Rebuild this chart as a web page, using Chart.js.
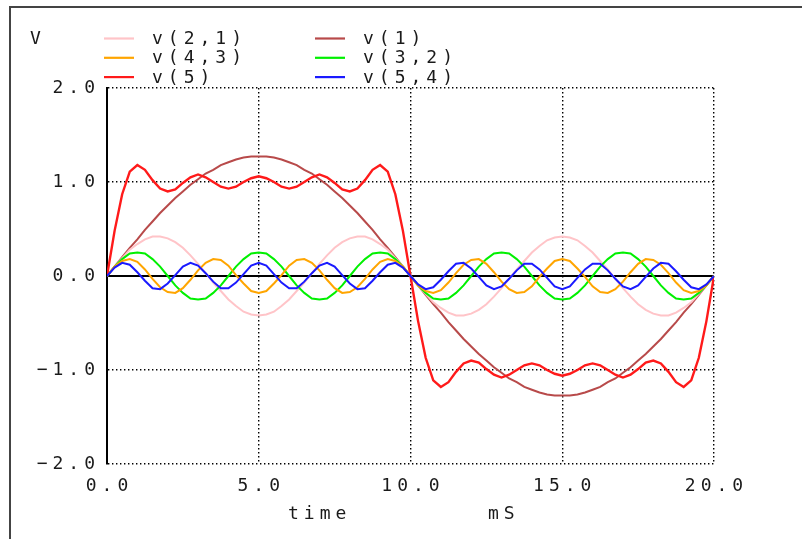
<!DOCTYPE html>
<html><head><meta charset="utf-8">
<script src="https://cdn.jsdelivr.net/npm/chart.js@4/dist/chart.umd.min.js"></script>
<style>html,body{margin:0;padding:0;background:#fff;}#wrap{width:802px;height:539px;}</style>
</head><body><div id="wrap"><canvas id="c" width="802" height="539"></canvas></div>
<script>
// time axis (mS)
const timeMs = [0,0.25,0.5,0.75,1,1.25,1.5,1.75,2,2.25,2.5,2.75,3,3.25,3.5,3.75,4,4.25,4.5,4.75,5,5.25,5.5,5.75,6,6.25,6.5,6.75,7,7.25,7.5,7.75,8,8.25,8.5,8.75,9,9.25,9.5,9.75,10,10.25,10.5,10.75,11,11.25,11.5,11.75,12,12.25,12.5,12.75,13,13.25,13.5,13.75,14,14.25,14.5,14.75,15,15.25,15.5,15.75,16,16.25,16.5,16.75,17,17.25,17.5,17.75,18,18.25,18.5,18.75,19,19.25,19.5,19.75,20];

const v1 = [0,0.10,0.20,0.30,0.39,0.49,0.58,0.67,0.75,0.83,0.90,0.97,1.03,1.09,1.13,1.18,1.21,1.24,1.26,1.27,1.27,1.27,1.26,1.24,1.21,1.18,1.13,1.09,1.03,0.97,0.90,0.83,0.75,0.67,0.58,0.49,0.39,0.30,0.20,0.10,0,
-0.10,-0.20,-0.30,-0.39,-0.49,-0.58,-0.67,-0.75,-0.83,-0.90,-0.97,-1.03,-1.09,-1.13,-1.18,-1.21,-1.24,-1.26,-1.27,-1.27,-1.27,-1.26,-1.24,-1.21,-1.18,-1.13,-1.09,-1.03,-0.97,-0.90,-0.83,-0.75,-0.67,-0.58,-0.49,-0.39,-0.30,-0.20,-0.10,0];

const v21 = [0,0.10,0.19,0.28,0.34,0.39,0.42,0.42,0.40,0.36,0.30,0.22,0.13,0.03,-0.07,-0.16,-0.25,-0.32,-0.38,-0.41,-0.42,
-0.41,-0.38,-0.32,-0.25,-0.16,-0.07,0.03,0.13,0.22,0.30,0.36,0.40,0.42,0.42,0.39,0.34,0.28,0.19,0.10,0,
-0.10,-0.19,-0.28,-0.34,-0.39,-0.42,-0.42,-0.40,-0.36,-0.30,-0.22,-0.13,-0.03,0.07,0.16,0.25,0.32,0.38,0.41,0.42,
0.41,0.38,0.32,0.25,0.16,0.07,-0.03,-0.13,-0.22,-0.30,-0.36,-0.40,-0.42,-0.42,-0.39,-0.34,-0.28,-0.19,-0.10,0];

const v32 = [0,0.10,0.18,0.24,0.25,0.24,0.18,0.10,0,-0.10,-0.18,-0.24,-0.25,-0.24,-0.18,-0.10,0,0.10,0.18,0.24,0.25,
0.24,0.18,0.10,0,-0.10,-0.18,-0.24,-0.25,-0.24,-0.18,-0.10,0,0.10,0.18,0.24,0.25,0.24,0.18,0.10,0,
-0.10,-0.18,-0.24,-0.25,-0.24,-0.18,-0.10,0,0.10,0.18,0.24,0.25,0.24,0.18,0.10,0,-0.10,-0.18,-0.24,-0.25,
-0.24,-0.18,-0.10,0,0.10,0.18,0.24,0.25,0.24,0.18,0.10,0,-0.10,-0.18,-0.24,-0.25,-0.24,-0.18,-0.10,0];

const v43 = [0,0.10,0.16,0.18,0.15,0.07,-0.03,-0.12,-0.17,-0.18,-0.13,-0.04,0.06,0.14,0.18,0.17,0.11,0.01,-0.08,-0.16,-0.18,
-0.16,-0.08,0.01,0.11,0.17,0.18,0.14,0.06,-0.04,-0.13,-0.18,-0.17,-0.12,-0.03,0.07,0.15,0.18,0.16,0.10,0,
-0.10,-0.16,-0.18,-0.15,-0.07,0.03,0.12,0.17,0.18,0.13,0.04,-0.06,-0.14,-0.18,-0.17,-0.11,-0.01,0.08,0.16,0.18,
0.16,0.08,-0.01,-0.11,-0.17,-0.18,-0.14,-0.06,0.04,0.13,0.18,0.17,0.12,0.03,-0.07,-0.15,-0.18,-0.16,-0.10,0];

const v54 = [0,0.09,0.14,0.12,0.04,-0.05,-0.13,-0.14,-0.08,0.01,0.10,0.14,0.11,0.03,-0.06,-0.13,-0.13,-0.07,0.02,0.11,0.14,
0.11,0.02,-0.07,-0.13,-0.13,-0.06,0.03,0.11,0.14,0.10,0.01,-0.08,-0.14,-0.13,-0.05,0.04,0.12,0.14,0.09,0,
-0.09,-0.14,-0.12,-0.04,0.05,0.13,0.14,0.08,-0.01,-0.10,-0.14,-0.11,-0.03,0.06,0.13,0.13,0.07,-0.02,-0.11,-0.14,
-0.11,-0.02,0.07,0.13,0.13,0.06,-0.03,-0.11,-0.14,-0.10,-0.01,0.08,0.14,0.13,0.05,-0.04,-0.12,-0.14,-0.09,0];

const v5 = [0,0.48,0.87,1.11,1.18,1.13,1.02,0.93,0.90,0.92,0.99,1.05,1.08,1.05,1.00,0.95,0.93,0.95,1.00,1.04,1.06,
1.04,1.00,0.95,0.93,0.95,1.00,1.05,1.08,1.05,0.99,0.92,0.90,0.93,1.02,1.13,1.18,1.11,0.87,0.48,0,
-0.48,-0.87,-1.11,-1.18,-1.13,-1.02,-0.93,-0.90,-0.92,-0.99,-1.05,-1.08,-1.05,-1.00,-0.95,-0.93,-0.95,-1.00,-1.04,-1.06,
-1.04,-1.00,-0.95,-0.93,-0.95,-1.00,-1.05,-1.08,-1.05,-0.99,-0.92,-0.90,-0.93,-1.02,-1.13,-1.18,-1.11,-0.87,-0.48,0];

const seriesLabels = ['v(2,1)','v(1)','v(4,3)','v(3,2)','v(5)','v(5,4)'];
const seriesValues = [v21, v1, v43, v32, v5, v54];
const xTicks = [0,5,10,15,20];
const yTicks = [-2,-1,0,1,2];
const yUnit = 'V';
const xTitle = 'time';
const xUnit = 'mS';

const colors = ['#ffc4c8','#b84a4a','#ffa500','#00f000','#ff1a1a','#1a1aff'];
const drawOrder = [4,5,2,3,1,0];
const widths = [2,2,2,2,2.4,2];

const FONT = '18px "DejaVu Sans Mono", monospace';
const LS = '5px';
const TXT = '#1a1a1a';

const fmt = v => { const s = Math.abs(Number(v)).toFixed(1); return Number(v) < 0 ? '\u2212' + s : s; };

const datasets = seriesLabels.map((lab,i)=>({
  label: lab,
  data: timeMs.map((t,j)=>({x:t, y:seriesValues[i][j]})),
  borderColor: colors[i],
  backgroundColor: colors[i],
  borderWidth: widths[i],
  pointRadius: 0,
  tension: 0,
  fill: false,
  order: drawOrder[i]
}));

const deco = {
  id: 'deco',
  beforeDraw(chart){
    const ctx = chart.ctx;
    ctx.letterSpacing = LS;
    ctx.save();
    ctx.strokeStyle = '#444';
    ctx.lineWidth = 2;
    ctx.strokeRect(10, 7, 1200, 1200);
    ctx.restore();
  },
  beforeDatasetsDraw(chart){
    const ctx = chart.ctx, a = chart.chartArea, ys = chart.scales.y;
    const y0 = Math.round(ys.getPixelForValue(0));
    ctx.save();
    ctx.strokeStyle = '#000';
    ctx.lineWidth = 2;
    ctx.beginPath();
    ctx.moveTo(a.left, y0); ctx.lineTo(a.right, y0);
    ctx.stroke();
    ctx.restore();
  },
  afterDraw(chart){
    const ctx = chart.ctx;
    ctx.save();
    ctx.letterSpacing = LS;
    ctx.font = FONT;
    ctx.fillStyle = TXT;
    ctx.textBaseline = 'middle';
    ctx.textAlign = 'left';
    ctx.fillText(yUnit, 30, 39);
    chart.data.datasets.forEach((ds,i)=>{
      const col = i % 2, row = Math.floor(i/2);
      const lx = col ? 315 : 104;
      const tx = col ? 363 : 152;
      const y = 38.5 + row*19.3;
      ctx.strokeStyle = ds.borderColor;
      ctx.lineWidth = 2.2;
      ctx.beginPath(); ctx.moveTo(lx, y); ctx.lineTo(lx+30, y); ctx.stroke();
      ctx.fillText(ds.label, tx, y+1);
    });
    ctx.fillText(xTitle, 288, 514);
    ctx.fillText(xUnit, 488, 514);
    ctx.restore();
  }
};

new Chart(document.getElementById('c'), {
  type: 'line',
  data: { datasets },
  options: {
    responsive: false,
    animation: false,
    events: [],
    layout: { padding: { left: 0, top: 88, right: 88, bottom: 0 } },
    plugins: { legend: { display: false }, tooltip: { enabled: false } },
    scales: {
      x: {
        type: 'linear', min: 0, max: 20,
        afterBuildTicks: s => { s.ticks = xTicks.map(v=>({value:v})); },
        afterFit: s => { s.height = 75; },
        ticks: { font: { family: '"DejaVu Sans Mono", monospace', size: 18 }, color: TXT, padding: 12, labelOffset: 2.5, maxRotation: 0, autoSkip: false,
                 callback: fmt },
        grid: { color: '#000', lineWidth: 1.4, drawTicks: false },
        border: { display: false, dash: [1.4, 2.6] }
      },
      y: {
        type: 'linear', min: -2, max: 2,
        afterBuildTicks: s => { s.ticks = yTicks.map(v=>({value:v})); },
        afterFit: s => { s.width = 107; },
        ticks: { font: { family: '"DejaVu Sans Mono", monospace', size: 18 }, color: TXT, padding: 7, autoSkip: false,
                 callback: fmt },
        grid: { color: '#000', lineWidth: 1.4, drawTicks: false },
        border: { display: true, color: '#000', width: 2, dash: [1.4, 2.6] }
      }
    }
  },
  plugins: [deco]
});
</script>
</body></html>
